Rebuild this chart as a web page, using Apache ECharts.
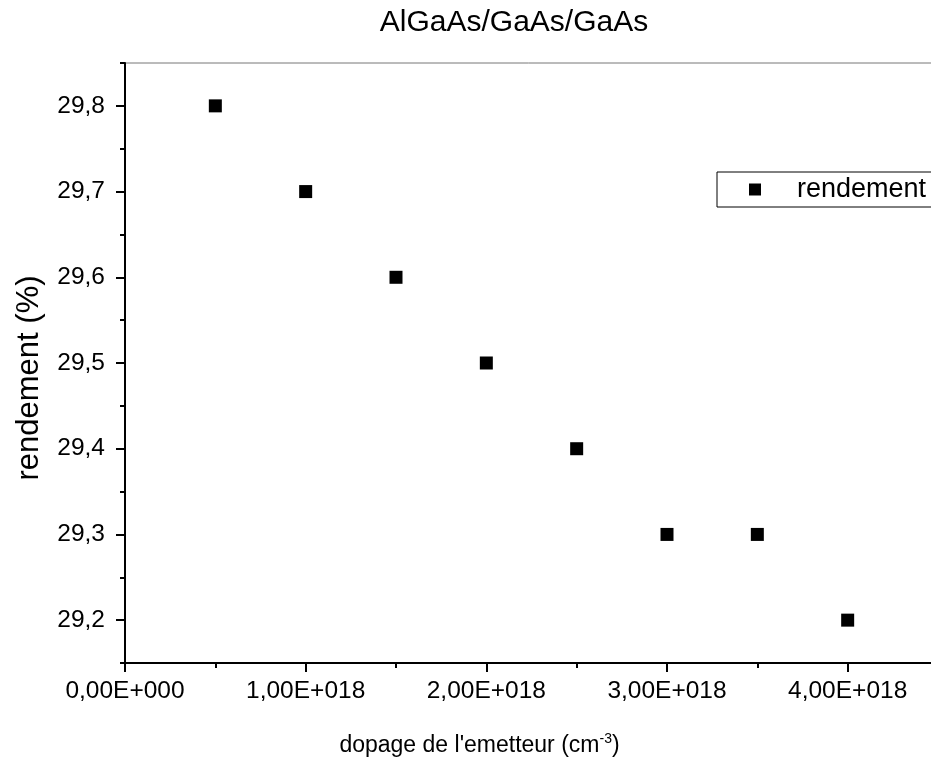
<!DOCTYPE html>
<html>
<head>
<meta charset="utf-8">
<title>AlGaAs/GaAs/GaAs</title>
<script src="https://cdn.jsdelivr.net/npm/echarts@6/dist/echarts.min.js"></script>
<style>
  html, body { margin: 0; padding: 0; background: #ffffff; }
  #chart { width: 931px; height: 764px; }
</style>
</head>
<body>
<div id="chart"></div>
<script>
// Emitter doping (cm^-3) and cell efficiency (%)
const dopage = [5e17, 1e18, 1.5e18, 2e18, 2.5e18, 3e18, 3.5e18, 4e18];
const rendement = [29.8, 29.7, 29.6, 29.5, 29.4, 29.3, 29.3, 29.2];

// Axis ticks
const xMajorTicks = [0, 1e18, 2e18, 3e18, 4e18];
const xMinorTicks = [5e17, 1.5e18, 2.5e18, 3.5e18, 4.5e18];
const yMajorTicks = [29.2, 29.3, 29.4, 29.5, 29.6, 29.7, 29.8];
const yMinorTicks = [29.15, 29.25, 29.35, 29.45, 29.55, 29.65, 29.75, 29.85];

const FONT = 'Liberation Sans, Arial, Helvetica, sans-serif';

// Origin-style scientific notation: 1,00E+018
function sci(v) {
  if (v === 0) return '0,00E+000';
  const e = Math.floor(Math.log10(Math.abs(v)) + 1e-9);
  const m = v / Math.pow(10, e);
  const sign = e < 0 ? '-' : '+';
  return m.toFixed(2).replace('.', ',') + 'E' + sign + String(Math.abs(e)).padStart(3, '0');
}

const points = dopage.map((x, i) => [x, rendement[i]]);

const chart = echarts.init(document.getElementById('chart'), null, { renderer: 'canvas' });

const xMin = 0, xMax = 4.5e18, yMin = 29.15, yMax = 29.85;

chart.setOption({
  animation: false,
  backgroundColor: '#ffffff',
  title: {
    text: 'AlGaAs/GaAs/GaAs',
    left: 514,
    top: 8,
    textAlign: 'center',
    padding: 0,
    textStyle: { fontFamily: FONT, fontSize: 30, fontWeight: 'normal', color: '#000' }
  },
  legend: {
    left: 717,
    top: 172,
    orient: 'vertical',
    borderColor: '#000',
    borderWidth: 1,
    padding: [4, 40, 4, 32],
    itemWidth: 12,
    itemHeight: 12,
    icon: 'rect',
    itemStyle: { opacity: 1, color: '#000' },
    textStyle: { fontFamily: FONT, fontSize: 27, color: '#000', lineHeight: 24, padding: [0, 0, 0, 31] },
    data: ['rendement']
  },
  grid: {
    left: 125,
    top: 63,
    width: 813,
    height: 600,
    show: true,
    borderColor: '#777',
    borderWidth: 1,
    containLabel: false,
    outerBoundsMode: 'none'
  },
  xAxis: [
    {
      type: 'value',
      min: xMin,
      max: xMax,
      name: "dopage de l'emetteur (cm{sup|-3})",
      nameLocation: 'middle',
      nameGap: 69,
      nameTextStyle: {
        fontFamily: FONT, fontSize: 23, color: '#000', lineHeight: 28,
        padding: [0, 104, 0, 0],
        rich: { sup: { fontFamily: FONT, fontSize: 14, lineHeight: 13, verticalAlign: 'top', color: '#000' } }
      },
      axisLine: { show: true, onZero: false, lineStyle: { color: '#000', width: 2 } },
      axisTick: { show: true, inside: false, length: 9, customValues: xMajorTicks, lineStyle: { color: '#000', width: 2 } },
      axisLabel: {
        show: true, margin: 16, customValues: xMajorTicks,
        fontFamily: FONT, fontSize: 24.5, color: '#000',
        formatter: v => sci(v)
      },
      splitLine: { show: false }
    },
    {
      type: 'value',
      min: xMin,
      max: xMax,
      position: 'bottom',
      axisLine: { show: false },
      axisTick: { show: true, inside: false, length: 5, customValues: xMinorTicks, lineStyle: { color: '#000', width: 2 } },
      axisLabel: { show: false },
      splitLine: { show: false }
    }
  ],
  yAxis: [
    {
      type: 'value',
      min: yMin,
      max: yMax,
      name: 'rendement (%)',
      nameLocation: 'middle',
      nameGap: 79,
      nameTextStyle: { fontFamily: FONT, fontSize: 31, color: '#000', lineHeight: 34, padding: [0, 30, 0, 0] },
      axisLine: { show: true, onZero: false, lineStyle: { color: '#000', width: 2 } },
      axisTick: { show: true, inside: false, length: 9, customValues: yMajorTicks, lineStyle: { color: '#000', width: 2 } },
      axisLabel: {
        show: true, margin: 20, customValues: yMajorTicks,
        fontFamily: FONT, fontSize: 24.5, color: '#000',
        formatter: v => v.toFixed(1).replace('.', ',')
      },
      splitLine: { show: false }
    },
    {
      type: 'value',
      min: yMin,
      max: yMax,
      position: 'left',
      axisLine: { show: false },
      axisTick: { show: true, inside: false, length: 5, customValues: yMinorTicks, lineStyle: { color: '#000', width: 2 } },
      axisLabel: { show: false },
      splitLine: { show: false }
    }
  ],
  series: [
    {
      name: 'rendement',
      type: 'scatter',
      xAxisIndex: 0,
      yAxisIndex: 0,
      symbol: 'rect',
      symbolSize: 13,
      itemStyle: { color: '#000', opacity: 1 },
      data: points
    }
  ]
});
</script>
</body>
</html>
